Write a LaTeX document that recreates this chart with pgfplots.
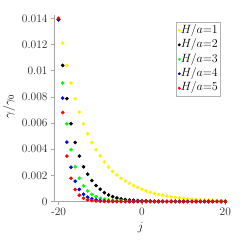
\documentclass[border=0pt]{standalone}
\usepackage{pgfplots}
\usepackage{pgfplotstable}
\pgfplotsset{compat=1.18}
\pgfplotstableread{
j y1 y2 y3 y4 y5
-20 0.0139 0.0139 0.0139 0.0139 0.0140
-19 0.0121 0.0104 0.00905 0.0079 0.0068
-18 0.0104 0.00786 0.00594 0.00454 0.00347
-17 0.00905 0.00594 0.00396 0.00262 0.00178
-16 0.00786 0.00451 0.00265 0.00155 0.00092
-15 0.00683 0.00347 0.00178 0.00092 0.00048
-14 0.00594 0.00265 0.00120 0.00055 0.00025
-13 0.00518 0.00209 0.00081 0.00033 0.00013
-12 0.00451 0.00160 0.00055 0.00020 0.00007
-11 0.00396 0.00122 0.00037 0.00012 0.00004
-10 0.00349 0.00094 0.00025 0.00007 0.00002
-9 0.00303 0.00068 0.00017 0.00004 0.00001
-8 0.00263 0.00050 0.00011 0.00002 0.00001
-7 0.00230 0.00037 0.00008 0.00001 0
-6 0.00203 0.00027 0.00005 0.00001 0
-5 0.00178 0.00020 0.00004 0 0
-4 0.00157 0.00015 0.00002 0 0
-3 0.00139 0.00011 0.00002 0 0
-2 0.00122 0.00009 0.00001 0 0
-1 0.00107 0.00007 0.00001 0 0
0 0.00094 0.00005 0.00001 0 0
1 0.00082 0.00004 0 0 0
2 0.00071 0.00003 0 0 0
3 0.00062 0.00003 0 0 0
4 0.00054 0.00002 0 0 0
5 0.00047 0.00002 0 0 0
6 0.00041 0.00001 0 0 0
7 0.00035 0.00001 0 0 0
8 0.00031 0.00001 0 0 0
9 0.00027 0.00001 0 0 0
10 0.00023 0.00001 0 0 0
11 0.00020 0 0 0 0
12 0.00018 0 0 0 0
13 0.00015 0 0 0 0
14 0.00013 0 0 0 0
15 0.00011 0 0 0 0
16 0.00010 0 0 0 0
17 0.00009 0 0 0 0
18 0.00008 0 0 0 0
19 0.00007 0 0 0 0
20 0.00006 0 0 0 0
}\datatable
\begin{document}
\begin{tikzpicture}
\useasboundingbox (-54bp,-38.5bp) rectangle (195bp,201.5bp);
\begin{axis}[
  at={(0,0)}, anchor=south west,
  scale only axis, width=173.4bp, height=186.2bp,
  xmin=-21.08, xmax=20.5, ymin=0, ymax=0.01423,
  axis lines=left, axis line style={-, gray!70, line width=0.6pt},
  tick style={gray!70, line width=0.6pt}, tick align=outside,
  major tick length=3bp,
  clip=false,
  scaled x ticks=false, scaled y ticks=false,
  xtick={-20,0,20}, xticklabels={-20,0,20},
  ytick={0,0.002,0.004,0.006,0.008,0.01,0.012,0.014},
  yticklabels={0,0.002,0.004,0.006,0.008,0.01,0.012,0.014},
  tick label style={font=\fontsize{11.5}{13}\selectfont, text=black!85},
  label style={font=\fontsize{11.5}{13}\selectfont},
  xlabel={$j$}, ylabel={$\gamma/\gamma_0$},
  ylabel style={xshift=2bp},
  legend cell align=left,
  legend style={at={(0.961,0.962)}, anchor=north east, draw=gray!60,
    line width=0.6pt, font=\fontsize{11.5}{12}\selectfont,
    inner xsep=2pt, inner ysep=1.5pt, row sep=2pt,
    nodes={inner sep=0.5pt, text height=8.5pt, text depth=3pt}},
  legend image post style={mark size=1.1pt},
  every axis plot/.append style={only marks, mark=*, mark size=1.65bp},
]
\addplot[yellow, mark options={draw=yellow, fill=yellow}] table[x=j, y=y1] {\datatable};
\addlegendentry{$H/a{=}1$}
\addplot[black, mark options={draw=black, fill=black}] table[x=j, y=y2] {\datatable};
\addlegendentry{$H/a{=}2$}
\addplot[green, mark options={draw=green, fill=green}] table[x=j, y=y3] {\datatable};
\addlegendentry{$H/a{=}3$}
\addplot[blue, mark options={draw=blue, fill=blue}] table[x=j, y=y4] {\datatable};
\addlegendentry{$H/a{=}4$}
\addplot[red, mark options={draw=red, fill=red}] table[x=j, y=y5] {\datatable};
\addlegendentry{$H/a{=}5$}
\end{axis}
\end{tikzpicture}
\end{document}
